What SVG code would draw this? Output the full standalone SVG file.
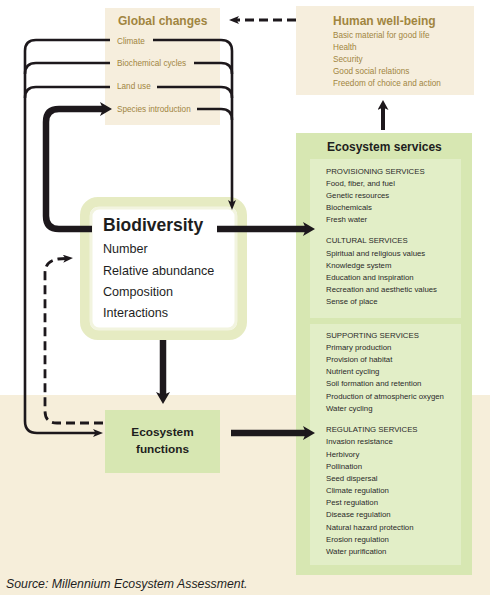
<svg xmlns="http://www.w3.org/2000/svg" width="490" height="595" viewBox="0 0 490 595">
<style>
.gc{font-family:"Liberation Sans",Arial,sans-serif;fill:#A1853F}
.gct{font-weight:bold;font-size:12px}
.gci{font-size:8.2px}
.bd{font-family:"Liberation Sans",Arial,sans-serif;fill:#1e1e1e;font-size:12.6px}
.es{font-family:"Liberation Sans",Arial,sans-serif;fill:#2a2a2a;font-size:7.8px}
.bold{font-weight:bold}
.thin{fill:none;stroke:#1d181c;stroke-width:2.6}
.thick{fill:none;stroke:#1d181c;stroke-width:6.5}
.dash{fill:none;stroke:#1d181c;stroke-width:2.8;stroke-dasharray:9 5}
</style>
<defs>
<marker id="ah-thick" viewBox="0 0 12 14" refX="4" refY="7" markerWidth="12" markerHeight="14" markerUnits="userSpaceOnUse" orient="auto">
<path d="M0,0 L12,7 L0,14 L3,7 z" fill="#1d181c"/>
</marker>
<marker id="ah-med" viewBox="0 0 10 11" refX="3" refY="5.5" markerWidth="10" markerHeight="11" markerUnits="userSpaceOnUse" orient="auto">
<path d="M0,0 L10,5.5 L0,11 L2.5,5.5 z" fill="#1d181c"/>
</marker>
<marker id="ah-thin" viewBox="0 0 10 8" refX="3" refY="4" markerWidth="10" markerHeight="8" markerUnits="userSpaceOnUse" orient="auto">
<path d="M0,0 L10,4 L0,8 L2.5,4 z" fill="#1d181c"/>
</marker>
</defs>
<rect x="0" y="395" width="490" height="200" fill="#F6EEDA"/>
<g id="global-changes">
<rect x="105" y="8" width="115" height="117" fill="#F6EEDD"/>
<text class="gc gct" x="118" y="25">Global changes</text>
<text class="gc gci" x="117" y="43.5">Climate</text>
<text class="gc gci" x="117" y="66">Biochemical cycles</text>
<text class="gc gci" x="117" y="89">Land use</text>
<text class="gc gci" x="117" y="111.5">Species introduction</text>
</g>
<g id="human-well-being">
<rect x="296" y="6" width="178" height="89" fill="#F6EEDD"/>
<text class="gc gct" x="333" y="25">Human well-being</text>
<text class="gc gci" x="333" y="37.5">Basic material for good life</text>
<text class="gc gci" x="333" y="49.5">Health</text>
<text class="gc gci" x="333" y="61.5">Security</text>
<text class="gc gci" x="333" y="73.5">Good social relations</text>
<text class="gc gci" x="333" y="85.5">Freedom of choice and action</text>
</g>
<g id="ecosystem-services">
<rect x="296" y="133" width="176" height="442" fill="#D7E7B2"/>
<rect x="310" y="159" width="151" height="159" fill="#E2EEC7"/>
<rect x="310" y="324" width="151" height="241" fill="#E2EEC7"/>
<text class="bd bold" x="327" y="150.5" style="font-size:12px">Ecosystem services</text>
<text class="es" x="326" y="173.5">PROVISIONING SERVICES</text>
<text class="es" x="326" y="185.5">Food, fiber, and fuel</text>
<text class="es" x="326" y="197.5">Genetic resources</text>
<text class="es" x="326" y="209.5">Biochemicals</text>
<text class="es" x="326" y="221.8">Fresh water</text>
<text class="es" x="326" y="242.8">CULTURAL SERVICES</text>
<text class="es" x="326" y="255.5">Spiritual and religious values</text>
<text class="es" x="326" y="267.8">Knowledge system</text>
<text class="es" x="326" y="279.5">Education and inspiration</text>
<text class="es" x="326" y="291.8">Recreation and aesthetic values</text>
<text class="es" x="326" y="303.8">Sense of place</text>
<text class="es" x="326" y="337.8">SUPPORTING SERVICES</text>
<text class="es" x="326" y="349.5">Primary production</text>
<text class="es" x="326" y="361.8">Provision of habitat</text>
<text class="es" x="326" y="374.1">Nutrient cycling</text>
<text class="es" x="326" y="386.1">Soil formation and retention</text>
<text class="es" x="326" y="398.5">Production of atmospheric oxygen</text>
<text class="es" x="326" y="411.1">Water cycling</text>
<text class="es" x="326" y="431.8">REGULATING SERVICES</text>
<text class="es" x="326" y="444.1">Invasion resistance</text>
<text class="es" x="326" y="456.8">Herbivory</text>
<text class="es" x="326" y="468.5">Pollination</text>
<text class="es" x="326" y="480.5">Seed dispersal</text>
<text class="es" x="326" y="493.1">Climate regulation</text>
<text class="es" x="326" y="505.1">Pest regulation</text>
<text class="es" x="326" y="517.1">Disease regulation</text>
<text class="es" x="326" y="529.5">Natural hazard protection</text>
<text class="es" x="326" y="541.8">Erosion regulation</text>
<text class="es" x="326" y="553.5">Water purification</text>
</g>
<g id="biodiversity">
<rect x="85" y="202" width="157" height="133" rx="13" fill="#ffffff" stroke="#E6EBC2" stroke-width="10"/>
<rect x="91" y="208" width="145" height="121" rx="8" fill="none" stroke="#F2F4DF" stroke-width="3"/>
<text class="bd bold" x="103" y="231" style="font-size:17.5px">Biodiversity</text>
<text class="bd" x="103" y="253">Number</text>
<text class="bd" x="103" y="274.5">Relative abundance</text>
<text class="bd" x="103" y="295.5">Composition</text>
<text class="bd" x="103" y="317">Interactions</text>
</g>
<g id="ecosystem-functions">
<rect x="105" y="410" width="115" height="63" fill="#D7E7B2"/>
<text class="bd bold" x="162.5" y="436" text-anchor="middle" style="font-size:11.8px">Ecosystem</text>
<text class="bd bold" x="162.5" y="452.5" text-anchor="middle" style="font-size:11.8px">functions</text>
</g>
<g id="connectors">
<path class="thin" d="M110,40 H36 Q25,40 25,51 V421 Q25,433 37,433 H96" marker-end="url(#ah-thin)"/>
<path class="thin" d="M110,63 H36 Q25,63 25,74"/>
<path class="thin" d="M110,87 H36 Q25,87 25,98"/>
<path class="thin" d="M153,40 H221 Q232,40 232,51 V203" marker-end="url(#ah-thin)"/>
<path class="thin" d="M194,63 H221 Q232,63 232,74"/>
<path class="thin" d="M157,87 H221 Q232,87 232,98"/>
<path class="thin" d="M197,109 H221 Q232,109 232,120"/>
<path class="thick" d="M92,229 H59 Q46,229 46,216 V122 Q46,109 59,109 H104" marker-end="url(#ah-thick)"/>
<path class="thick" d="M217,229 H307" marker-end="url(#ah-thick)"/>
<path class="thick" d="M163,340 V396" marker-end="url(#ah-thick)"/>
<path class="thick" d="M231,433 H307" marker-end="url(#ah-thick)"/>
<path fill="none" stroke="#1d181c" stroke-width="4" d="M383,130 V107" marker-end="url(#ah-med)"/>
<path class="dash" d="M296,20 H236" marker-end="url(#ah-thin)"/>
<path class="dash" d="M103,423 H57 Q45,423 45,411 V273 Q45,261 58,259 L66,258.5" marker-end="url(#ah-thin)"/>
</g>
<text x="6" y="588" style="font-family:'Liberation Sans',Arial,sans-serif;font-style:italic;font-size:12.3px;fill:#1e1e1e">Source: Millennium Ecosystem Assessment.</text>
</svg>
